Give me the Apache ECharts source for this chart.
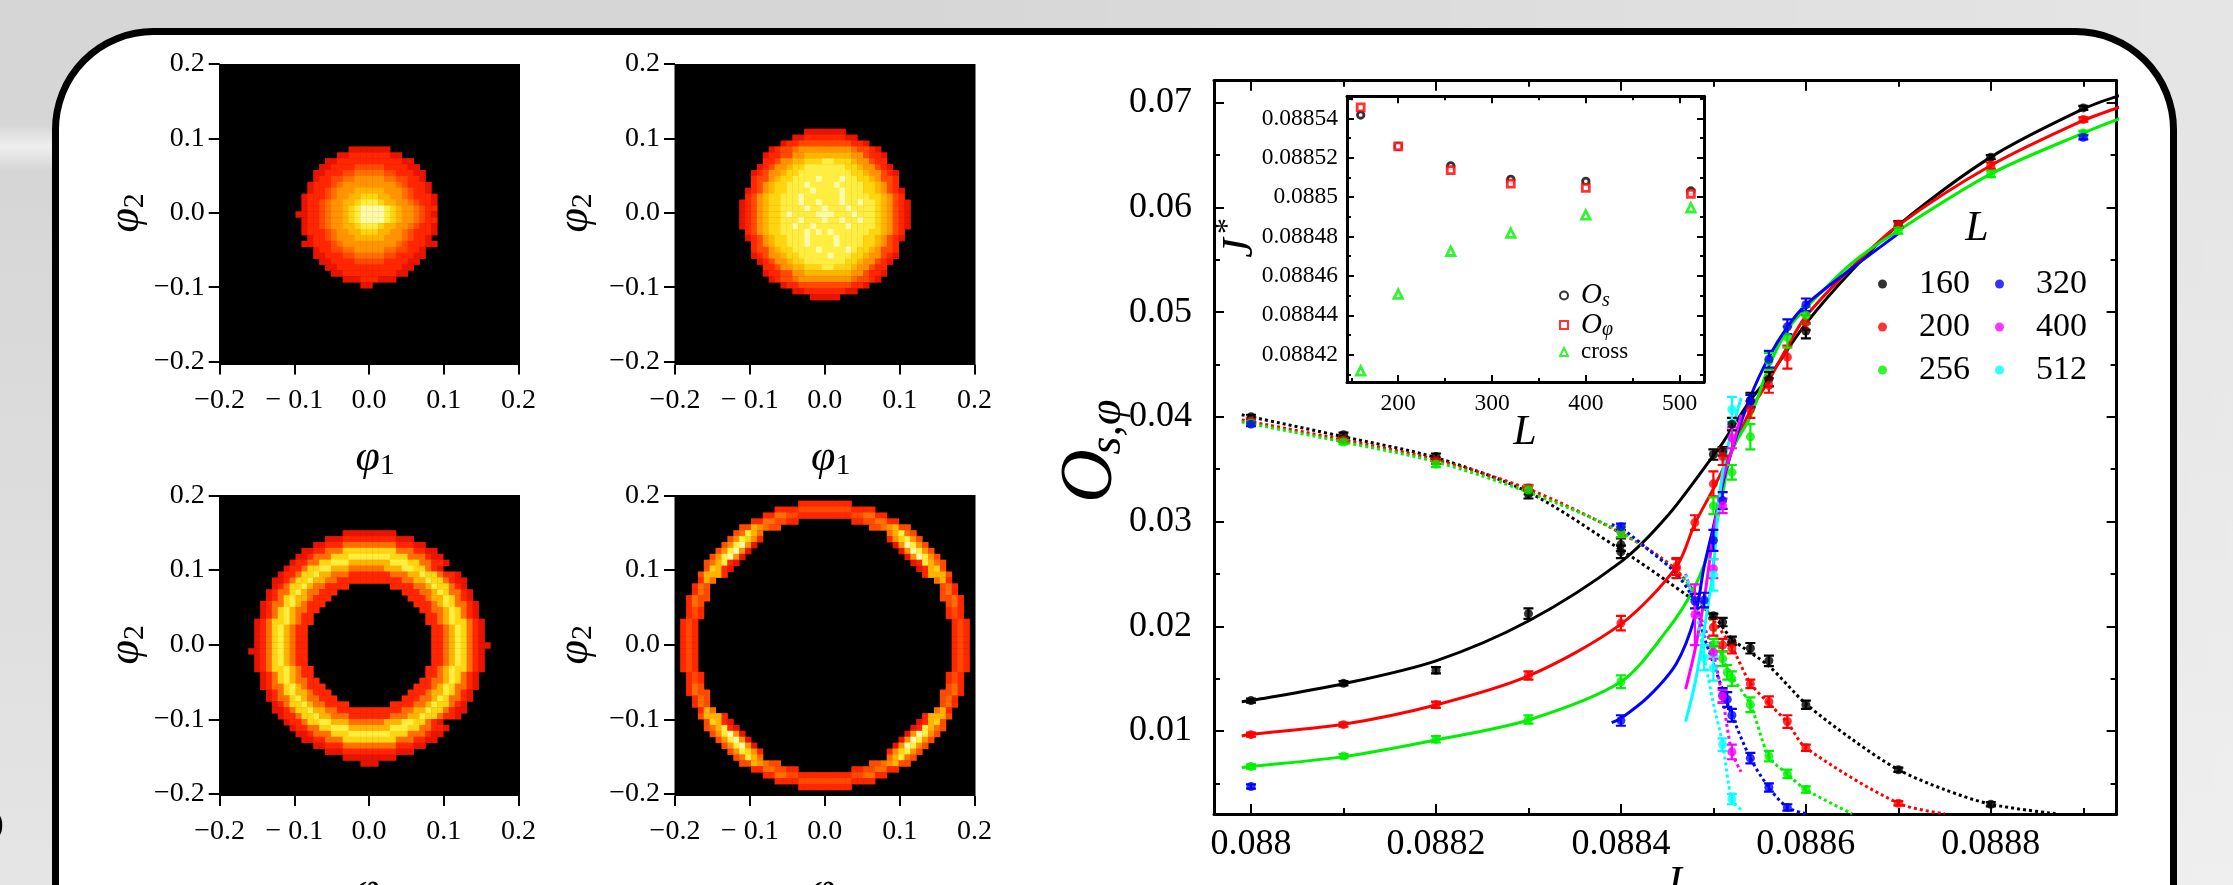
<!DOCTYPE html>
<html><head><meta charset="utf-8">
<style>html,body{margin:0;padding:0;background:#e0e0e0}#c{width:2233px;height:885px}</style>
<script src="https://cdn.jsdelivr.net/npm/echarts@6/dist/echarts.min.js"></script>
</head><body><div id="c"></div>
<script>
// ---------- inset data ----------
const insetL=[160,200,256,320,400,512];
const insetOs=[0.0885417,0.0885258,0.0885159,0.088509,0.088508,0.0885031];
const insetOphi=[0.0885456,0.0885258,0.0885137,0.0885068,0.0885047,0.0885017];
const insetCross=[0.0884117,0.0884507,0.0884725,0.0884817,0.088491,0.0884946];
// ---------- main plot points [J, value, error] ----------
const pts160=[[.088,.0129,.0002],[.0881,.01455,.0002],[.0882,.0158,.0003],[.0883,.0212,.0005],[.0884,.0271,.0006],[.0885,.0364,.0005],[.08851,.0367,.0004],[.08852,.0393,.0006],[.08854,.0416,.0007],[.08856,.0436,.0007],[.0886,.0482,.0007],[.0887,.0584,.0003],[.0888,.0648,.0002],[.0889,.0695,.0002],
[.088,.04,.0002],[.0881,.0383,.0002],[.0882,.0362,.0003],[.0883,.0326,.0004],[.0884,.0278,.0006],[.0885,.021,.0002],[.08851,.0204,.0004],[.08852,.0186,.0004],[.08854,.0179,.0005],[.08856,.0167,.0005],[.0886,.0125,.0004],[.0887,.0063,.0002],[.0888,.003,.0002]];
const pts200=[[.088,.00965,.0002],[.0881,.0106,.0002],[.0882,.0125,.0003],[.0883,.0153,.0004],[.0884,.0203,.0007],[.08846,.0257,.0008],[.08848,.0299,.0007],[.0885,.0336,.0012],[.08851,.0362,.0008],[.08854,.0407,.0008],[.08856,.043,.0007],[.08858,.0457,.0011],[.0886,.049,.0007],[.0887,.0584,.0002],[.0888,.064,.0003],[.0889,.0684,.0002],
[.088,.0396,.0002],[.0881,.0378,.0002],[.0882,.0358,.0003],[.0883,.0332,.0003],[.0884,.029,.0005],[.08846,.0255,.0009],[.0885,.0199,.0008],[.08851,.0182,.0006],[.08852,.0179,.0005],[.08854,.0145,.0004],[.08856,.0128,.0005],[.08858,.0109,.0006],[.0886,.0084,.0003],[.0887,.0031,.0002]];
const pts256=[[.088,.0066,.0002],[.0881,.0076,.0002],[.0882,.0092,.0003],[.0883,.0111,.0004],[.0884,.0147,.0006],[.0885,.0315,.0008],[.08852,.0347,.0007],[.08854,.0381,.0012],[.08856,.0453,.0008],[.08858,.0476,.001],[.0886,.0497,.0008],[.0887,.0578,.0003],[.0888,.0632,.0003],[.0889,.0671,.0002],
[.088,.0394,.0002],[.0881,.0376,.0002],[.0882,.0355,.0003],[.0883,.033,.0004],[.0884,.029,.0005],[.0885,.0182,.0006],[.08851,.0169,.0007],[.088515,.0156,.0007],[.08852,.015,.0007],[.08854,.0125,.0007],[.08856,.0076,.0005],[.08858,.0059,.0004],[.0886,.0044,.0003]];
const pts320=[[.088,.0047,.0002],[.0884,.011,.0005],[.0885,.0282,.001],[.08851,.032,.0008],[.08854,.0415,.0006],[.08856,.0455,.0008],[.08858,.0486,.0007],[.0886,.0507,.0006],[.0889,.0667,.0002],
[.088,.0393,.0002],[.0884,.0295,.0003],[.08848,.0224,.0007],[.08849,.0225,.0007],[.08851,.0134,.0007],[.088515,.013,.0007],[.08852,.0115,.0006],[.08854,.0074,.0005],[.08856,.0046,.0004],[.08858,.0027,.0003]];
const pts400=[[.08848,.0211,.0029],[.0885,.0255,.0009],[.08851,.0315,.0007],[.08852,.038,.001],[.0885,.0175,.0006],[.08851,.0133,.0006],[.08852,.008,.0007]];
const pts512=[[.08852,.0407,.0012],[.0885,.0249,.0015],[.08849,.017,.0012],[.0885,.016,.0012],[.08851,.0087,.0006],[.08852,.0035,.0005]];
// ---------- fitted curves ----------
const rise160=[[.08799,.0128],[.088,.0129],[.0881,.01451],[.0882,.0167],[.0883,.0205],[.0884,.02615],[.08845,.0305],[.0885,.0363],[.08851,.0375],[.08854,.0416],[.08856,.0438],[.0886,.0489],[.08865,.054],[.0887,.0583],[.0888,.0648],[.0889,.0694],[.08894,.0707]];
const rise200=[[.08799,.00952],[.088,.00968],[.0881,.01064],[.0882,.01248],[.0883,.01525],[.0884,.0202],[.08846,.02568],[.08848,.0298],[.0885,.03315],[.08852,.0368],[.08854,.0406],[.08856,.0435],[.08858,.0467],[.0886,.0496],[.08865,.0543],[.0887,.0583],[.0888,.064],[.0889,.0683],[.08894,.0696]];
const rise256=[[.08799,.0065],[.088,.0066],[.0881,.00755],[.0882,.00914],[.0883,.01105],[.0884,.0147],[.08845,.01963],[.08848,.0238],[.0885,.02854],[.08851,.0327],[.08852,.0368],[.08854,.04],[.08856,.0448],[.08858,.0483],[.0886,.0504],[.08865,.0547],[.0887,.0578],[.0888,.0632],[.0889,.0671],[.08894,.0685]];
const rise320=[[.08839,.0108],[.0884,.0112],[.08843,.0133],[.08846,.01645],[.08848,.0209],[.08849,.0257],[.0885,.0295],[.08851,.0336],[.08852,.0368],[.08854,.0419],[.08856,.0457],[.08858,.0486],[.0886,.0507],[.08865,.0542],[.0887,.0575]];
const rise400=[[.08847,.014],[.08848,.0177],[.08849,.0225],[.0885,.0289],[.08851,.034],[.08852,.0368],[.08853,.0402]];
const rise512=[[.08847,.0109],[.08848,.0145],[.08849,.0196],[.0885,.0257],[.088506,.032],[.088513,.0362],[.08853,.0418]];
const fall160=[[.08799,.0402],[.088,.04],[.0881,.0381],[.0882,.0361],[.0883,.0328],[.0884,.0273],[.08845,.0243],[.0885,.021],[.08852,.0188],[.08856,.0162],[.0886,.0126],[.08865,.0092],[.0887,.0063],[.08875,.0044],[.0888,.003],[.08887,.0021]];
const fall200=[[.08799,.0397],[.0881,.0378],[.0882,.0359],[.0883,.0331],[.0884,.0289],[.08846,.02536],[.0885,.0206],[.08852,.018],[.08854,.01455],[.08856,.01264],[.08858,.0108],[.0886,.0084],[.0887,.0031],[.08875,.0021]];
const fall256=[[.08799,.0395],[.0881,.0376],[.0882,.0357],[.0883,.0328],[.0884,.029],[.08846,.0252],[.08848,.0231],[.0885,.02],[.08851,.0169],[.08852,.0152],[.08854,.0125],[.08856,.00755],[.08858,.0059],[.0886,.0044],[.08865,.0021]];
const fall320=[[.08839,.0297],[.0884,.0294],[.08843,.0273],[.08846,.025],[.08848,.0223],[.08849,.019],[.0885,.01645],[.08851,.0139],[.08852,.0115],[.08854,.0074],[.08856,.0046],[.08858,.0027],[.0886,.0021]];
const fall400=[[.08847,.025],[.08848,.0222],[.08849,.02],[.0885,.0174],[.08851,.0131],[.08852,.008],[.08853,.0061]];
const fall512=[[.08847,.0249],[.08848,.0219],[.08849,.0171],[.0885,.0126],[.08851,.0088],[.08852,.0034],[.08853,.0025]];
const sizeNames=['160','200','256','320','400','512'];
const sizeColors=['#000000','#ff0000','#00f000','#0000ff','#ff00ff','#00ffff'];
// ---------- heat maps: each row (top to bottom) lists [first column relative to centre, intensity digits] ----------
const disc1Rows=[
[[-3,"1111111"]],[[-5,"11222222211"]],[[-7,"112222222222211"]],[[-8,"11222233333222211"]],[[-9,"1122233444443322211"]],[[-9,"1223344555554433221"]],
[[-10,"122234555555555432221"]],[[-10,"122345556666655543221"]],[[-11,"12223455667776655432221"]],[[-11,"12234556678887665543221"]],
[[-11,"12234556789999876554322"]],[[-12,"112234556789999876554321"]],[[-11,"12234556789999876554322"]],[[-11,"12234556678887665543221"]],[[-11,"12223455667776655432221"]],
[[-10,"122345556666655543221"]],[[-11,"11222345555555554322211"]],[[-9,"1223344555554433221"]],[[-9,"1122233444443322211"]],[[-8,"11222233333222211"]],[[-7,"112222222222211"]],[[-6,"1122222222211"]],[[-4,"111222111"]],[[-1,"11"]]];
const disc2Rows=[
[[-3,"1111111"]],[[-5,"11222222211"]],[[-7,"122333333333221"]],[[-9,"1233455555555543321"]],[[-10,"122335566666666553221"]],[[-10,"223556677788777655322"]],
[[-11,"12355677888888877655321"]],[[-12,"1235567788888888877655321"]],[[-12,"2335677888898889887765332"]],[[-12,"2356778889888898888776532"]],
[[-13,"123567788889888898887765321"]],[[-13,"235677888988888898888776532"]],[[-14,"12356778889889888988988765321"]],[[-14,"12356778888988988898888765321"]],
[[-14,"12356778988889998889888765321"]],[[-14,"12356778889888988988988765321"]],[[-14,"12356778898898888898888765321"]],[[-13,"235677888898989888888776532"]],
[[-13,"123567788898888988887765321"]],[[-12,"2356778889888898888776532"]],[[-12,"2335677888898888987765332"]],[[-12,"1235567788888988877655321"]],
[[-11,"12355677888888877655321"]],[[-10,"223556677788777655322"]],[[-10,"122335566666666553221"]],[[-9,"1233455555555543321"]],[[-7,"122333333333221"]],[[-5,"11222222211"]],[[-2,"11111"]]];
const ring3Rows=[
[[-4,"111111111"]],[[-7,"111222222222111"]],[[-9,"1122244444444422211"]],[[-11,"11224447777777774442211"]],[[-12,"1124447778888888777444211"]],[[-13,"122447788866666668887744221"]],
[[-14,"122477886664444446668877421"]],[[-15,"1224778664442222222444668774221"]],[[-16,"112477866442222222222244668774211"]],[[-16,"1247786442222"],[4,"2222446877421"]],
[[-17,"124478644222"],[6,"222446874421"]],[[-17,"12478664222"],[7,"22246687421"]],[[-18,"12447864222"],[8,"22246874421"]],[[-18,"1247864422"],[9,"2244687421"]],[[-18,"124786422"],[10,"224687421"]],
[[-19,"1247786422"],[10,"2246877421"]],[[-19,"124786422"],[11,"224687421"]],[[-19,"124786422"],[11,"224687421"]],[[-19,"124786422"],[11,"224687421"]],[[-19,"124786422"],[11,"2246874211"]],[[-20,"1124786422"],[11,"224687421"]],[[-19,"124786422"],[11,"224687421"]],[[-19,"124786422"],[11,"224687421"]],
[[-19,"1247786422"],[10,"2246877421"]],[[-18,"124786422"],[10,"224687421"]],[[-18,"1247864422"],[9,"2244687421"]],[[-18,"12447864222"],[8,"22246874421"]],[[-17,"12478664222"],[7,"22246687421"]],[[-17,"124478644222"],[6,"222446874421"]],[[-16,"1247786442222"],[4,"2222446877421"]],
[[-16,"112477866442222222222244668774211"]],[[-15,"1224778664442222222444668774221"]],[[-14,"122477886664444446668877421"]],[[-13,"122447788866666668887744221"]],[[-12,"1124447778888888777444211"]],[[-11,"11224447777777774442211"]],[[-9,"1122244444444422211"]],[[-7,"111222222222111"]],[[-4,"111111111"]],[[-1,"111"]]];
const ring4Rows=[
[[-4,"222222222"]],[[-8,"22223333333332222"]],[[-10,"224433222222222334422"]],[[-12,"22443322"],[5,"22334422"]],[[-14,"3365433"],[8,"3345633"]],[[-15,"34864"],[11,"46843"]],[[-16,"358752"],[11,"257853"]],[[-17,"358951"],[12,"159853"]],[[-18,"358951"],[13,"159853"]],[[-19,"358951"],[14,"159853"]],[[-20,"346821"],[15,"128643"]],[[-20,"37621"],[16,"12673"]],[[-21,"36662"],[17,"26663"]],[[-21,"264"],[19,"462"]],[[-22,"243"],[20,"342"]],[[-22,"243"],[20,"342"]],[[-23,"2433"],[20,"3342"]],[[-23,"243"],[21,"342"]],[[-23,"232"],[21,"232"]],[[-23,"232"],[21,"232"]],[[-24,"232"],[22,"232"]],[[-24,"232"],[22,"232"]],[[-24,"232"],[22,"232"]],[[-24,"232"],[22,"232"]],[[-24,"232"],[22,"232"]],
[[-24,"232"],[22,"232"]],[[-24,"232"],[22,"232"]],[[-24,"232"],[22,"232"]],[[-24,"232"],[22,"232"]],[[-23,"232"],[21,"232"]],[[-23,"232"],[21,"232"]],[[-23,"243"],[21,"342"]],[[-23,"2433"],[20,"3342"]],[[-22,"243"],[20,"342"]],[[-22,"243"],[20,"342"]],[[-21,"264"],[19,"462"]],[[-21,"36662"],[17,"26663"]],[[-20,"37621"],[16,"12673"]],[[-20,"346821"],[15,"128643"]],[[-19,"358951"],[14,"159853"]],[[-18,"358951"],[13,"159853"]],[[-17,"358951"],[12,"159853"]],[[-16,"358752"],[11,"257853"]],[[-15,"34864"],[11,"46843"]],[[-14,"3365433"],[8,"3345633"]],[[-12,"22443322"],[5,"22334422"]],[[-10,"224433222222222334422"]],[[-8,"22223333333332222"]],[[-4,"222222222"]]];
const heatTopRow=[11,14,20,24];
const heatLevels=["#e81400","#ff2600","#ff4a00","#ff7000","#ff9400","#ffb400","#ffd410","#ffee40","#fffaa8"];
const heatXLabels=['−0.2','− 0.1','0.0','0.1','0.2'];
const heatYLabels=['−0.2','−0.1','0.0','0.1','0.2'];
const mainXMajor=[.088,.0882,.0884,.0886,.0888];
const mainXMinor=[.0881,.0883,.0885,.0887,.0889];
const mainYMajor=[.01,.02,.03,.04,.05,.06,.07];
const mainYMinor=[.005,.015,.025,.035,.045,.055,.065];
const insetXMajor=[200,300,400,500];
const insetXMinor=[150,250,350,450];
const insetYMajor=[.08842,.08844,.08846,.08848,.0885,.08852,.08854];
const insetYMinor=[.08841,.08843,.08845,.08847,.08849,.08851,.08853,.08855];

const serif='"Liberation Serif"';
const grids=[],xAxes=[],yAxes=[],series=[];
function addGrid(l,t,w,h){grids.push({left:l,top:t,width:w,height:h,containLabel:false,outerBoundsMode:'none'});return grids.length-1;}
const heatCats=[];for(let i=0;i<51;i++)heatCats.push(String(i));
function cellsFrom(rows,topRow){
  const out=[];const top=25+topRow;
  rows.forEach((row,r)=>{row.forEach(seg=>{
    const s=seg[1];
    for(let k=0;k<s.length;k++){const v=+s[k];if(v>0)out.push([25+seg[0]+k,top-r,v]);}
  });});
  return out;
}
const nameRich={p:{fontFamily:serif,fontStyle:'italic',fontSize:44,color:'#000'},n:{fontFamily:serif,fontSize:30,color:'#000',padding:[16,0,0,0]}};
const heatIdx=[];
function panel(bx,by,tx,ty,tw,th,off,yGap,rows,topRow){
  const g=addGrid(bx,by,301,301);
  xAxes.push({type:'category',gridIndex:g,show:false,data:heatCats});
  yAxes.push({type:'category',gridIndex:g,show:false,data:heatCats});
  heatIdx.push(series.length);
  series.push({type:'heatmap',xAxisIndex:xAxes.length-1,yAxisIndex:yAxes.length-1,data:cellsFrom(rows,topRow),silent:true,progressive:0,animation:false,emphasis:{disabled:true}});
  grids[g].show=true;grids[g].backgroundColor='#000';grids[g].borderWidth=0;
  const h=addGrid(tx,ty,tw,th);
  xAxes.push({type:'value',gridIndex:h,min:-0.2,max:0.2,interval:0.1,position:'bottom',offset:off,splitLine:{show:false},axisLine:{show:false,onZero:false},
    axisTick:{show:true,length:10,lineStyle:{color:'#000',width:2}},
    axisLabel:{margin:22,fontFamily:serif,fontSize:28,color:'#000',hideOverlap:false,showMinLabel:true,showMaxLabel:true,formatter:v=>heatXLabels[Math.round((v+0.2)/0.1)]},
    name:'{p|φ}{n|1}',nameLocation:'middle',nameGap:71,nameTextStyle:{rich:nameRich,padding:[0,0,0,12]}});
  yAxes.push({type:'value',gridIndex:h,min:-0.2,max:0.2,interval:0.1,position:'left',splitLine:{show:false},axisLine:{show:false,onZero:false},
    axisTick:{show:true,length:11,lineStyle:{color:'#000',width:2}},
    axisLabel:{margin:15,fontFamily:serif,fontSize:28,color:'#000',hideOverlap:false,showMinLabel:true,showMaxLabel:true,formatter:v=>heatYLabels[Math.round((v+0.2)/0.1)]},
    name:'{p|φ}{n|2}',nameLocation:'middle',nameRotate:90,nameGap:yGap,nameTextStyle:{rich:nameRich}});
  series.push({type:'scatter',xAxisIndex:xAxes.length-1,yAxisIndex:yAxes.length-1,data:[],silent:true});
}
panel(219,64,219.7,64,298.8,297.6,3,70,disc1Rows,heatTopRow[0]);
panel(674.5,64,675,64,299.5,297.6,3,77,disc2Rows,heatTopRow[1]);
panel(219,495,219.7,495.5,298.8,298.5,2,70,ring3Rows,heatTopRow[2]-1);
panel(674.5,495,675,495.5,299.5,298.5,2,77,ring4Rows,heatTopRow[3]);

function framed(box,xr,yr,xM,xm,yM,ym,opt){
  const g=addGrid(box[0],box[1],box[2],box[3]);
  const line={show:true,onZero:false,lineStyle:{color:'#000',width:opt.lw}};
  const tick=(len,vals)=>({show:true,inside:true,length:len,customValues:vals,lineStyle:{color:'#000',width:2}});
  xAxes.push({type:'value',gridIndex:g,min:xr[0],max:xr[1],position:'bottom',splitLine:{show:false},axisLine:line,axisTick:tick(opt.maj,xM),
    axisLabel:{customValues:xM,margin:opt.xm,fontFamily:serif,fontSize:opt.fs,color:'#000',hideOverlap:false,showMinLabel:true,showMaxLabel:true,formatter:v=>String(v)}});
  const xb=xAxes.length-1;
  xAxes.push({type:'value',gridIndex:g,min:xr[0],max:xr[1],position:'top',splitLine:{show:false},axisLine:line,axisTick:tick(opt.maj,xM),axisLabel:{show:false}});
  yAxes.push({type:'value',gridIndex:g,min:yr[0],max:yr[1],position:'left',splitLine:{show:false},axisLine:line,axisTick:tick(opt.maj,yM),
    axisLabel:{customValues:yM,margin:opt.ym,fontFamily:serif,fontSize:opt.fs,color:'#000',hideOverlap:false,showMinLabel:true,showMaxLabel:true,formatter:opt.yfmt}});
  const yb=yAxes.length-1;
  yAxes.push({type:'value',gridIndex:g,min:yr[0],max:yr[1],position:'right',splitLine:{show:false},axisLine:line,axisTick:tick(opt.maj,yM),axisLabel:{show:false}});
  const m=addGrid(box[0],box[1],box[2],box[3]);
  const noLine={show:false,onZero:false};
  xAxes.push({type:'value',gridIndex:m,min:xr[0],max:xr[1],position:'bottom',splitLine:{show:false},axisLine:noLine,axisTick:tick(opt.min,xm),axisLabel:{show:false}});
  xAxes.push({type:'value',gridIndex:m,min:xr[0],max:xr[1],position:'top',splitLine:{show:false},axisLine:noLine,axisTick:tick(opt.min,xm),axisLabel:{show:false}});
  yAxes.push({type:'value',gridIndex:m,min:yr[0],max:yr[1],position:'left',splitLine:{show:false},axisLine:noLine,axisTick:tick(opt.min,ym),axisLabel:{show:false}});
  yAxes.push({type:'value',gridIndex:m,min:yr[0],max:yr[1],position:'right',splitLine:{show:false},axisLine:noLine,axisTick:tick(opt.min,ym),axisLabel:{show:false}});
  return {x:xb,y:yb};
}
const mainAx=framed([1214,80.7,902.6,733.3],[.08796,.088936],[.00207,.0721],mainXMajor,mainXMinor,mainYMajor,mainYMinor,{lw:3,maj:10,min:6,fs:36,xm:13,ym:22,yfmt:v=>v.toFixed(2)});
const insetAx=framed([1347,96.3,357,285.7],[145.4,526],[.0884061,.0885512],insetXMajor,insetXMinor,insetYMajor,insetYMinor,{lw:3,maj:7,min:4,fs:23.5,xm:10,ym:9,yfmt:v=>String(v)});

const pts=[pts160,pts200,pts256,pts320,pts400,pts512];
const rises=[rise160,rise200,rise256,rise320,rise400,rise512];
const falls=[fall160,fall200,fall256,fall320,fall400,fall512];
sizeNames.forEach((nm,i)=>{
  const col=sizeColors[i];
  series.push({type:'line',xAxisIndex:mainAx.x,yAxisIndex:mainAx.y,data:rises[i],smooth:0.3,showSymbol:false,silent:true,clip:true,lineStyle:{color:col,width:3},itemStyle:{color:col},z:3});
  series.push({type:'line',xAxisIndex:mainAx.x,yAxisIndex:mainAx.y,data:falls[i],smooth:0.3,showSymbol:false,silent:true,clip:true,lineStyle:{color:col,width:3,type:[3,3]},itemStyle:{color:col},z:3});
  series.push({type:'custom',xAxisIndex:mainAx.x,yAxisIndex:mainAx.y,data:pts[i],clip:true,silent:true,encode:{x:0,y:1},z:4,
    renderItem:(p,api)=>{
      const x=api.value(0),y=api.value(1),e=api.value(2);
      const a=api.coord([x,y-e]),b=api.coord([x,y+e]);
      const st={stroke:col,lineWidth:2.2,fill:null};
      return {type:'group',children:[
        {type:'line',shape:{x1:a[0],y1:a[1],x2:b[0],y2:b[1]},style:st},
        {type:'line',shape:{x1:a[0]-5,y1:a[1],x2:a[0]+5,y2:a[1]},style:st},
        {type:'line',shape:{x1:b[0]-5,y1:b[1],x2:b[0]+5,y2:b[1]},style:st}]};
    }});
  series.push({type:'scatter',name:nm,xAxisIndex:mainAx.x,yAxisIndex:mainAx.y,data:pts[i].map(q=>[q[0],q[1]]),symbol:'circle',symbolSize:9,silent:true,clip:true,itemStyle:{color:col},z:5});
});
const insetDefs=[['Os',insetOs,'circle','#000',6.5],['Ophi',insetOphi,'rect','#ff0000',7],['cross',insetCross,'triangle','#00f000',8.5]];
insetDefs.forEach(d=>{
  series.push({type:'scatter',name:d[0],xAxisIndex:insetAx.x,yAxisIndex:insetAx.y,data:insetL.map((l,i)=>[l,d[1][i]]),symbol:d[2],symbolSize:d[4],silent:true,
    itemStyle:{color:'#fff',borderColor:d[3],borderWidth:2.8},z:5});
});
const legendBase={selectedMode:false,orient:'vertical',icon:'circle',itemWidth:9,itemHeight:9,itemGap:5,textStyle:{fontFamily:serif,fontSize:34,color:'#000',lineHeight:38,padding:[0,0,0,27]}};
const option={
  animation:false,
  backgroundColor:new echarts.graphic.LinearGradient(0,0,0,1,[{offset:0,color:'#d6d6d6'},{offset:.2,color:'#d6d6d6'},{offset:1,color:'#e5e5e5'}]),
  grid:grids,xAxis:xAxes,yAxis:yAxes,series:series,
  visualMap:{show:false,type:'continuous',min:1,max:9,dimension:2,seriesIndex:heatIdx,inRange:{color:heatLevels}},
  legend:[
    Object.assign({},legendBase,{left:1873,top:260,data:['160','200','256']}),
    Object.assign({},legendBase,{left:1990,top:260,data:['320','400','512']}),
    {selectedMode:false,orient:'vertical',left:1554,top:276,itemWidth:8,itemHeight:8,itemGap:0,data:['Os','Ophi','cross'],
     textStyle:{fontFamily:serif,fontSize:23,color:'#000',lineHeight:24,padding:[0,0,0,8],rich:{o:{fontFamily:serif,fontStyle:'italic',fontSize:29,color:'#000'},s:{fontFamily:serif,fontStyle:'italic',fontSize:20,color:'#000',padding:[10,0,0,0]}}},
     formatter:n=>n==='Os'?'{o|O}{s|s}':n==='Ophi'?'{o|O}{s|φ}':'cross'}
  ],
  graphic:{elements:[
    {type:'rect',z:-12,silent:true,shape:{x:0,y:0,width:2233,height:885},style:{fill:new echarts.graphic.LinearGradient(0,0,1,0,[{offset:0,color:'rgba(255,255,255,0)'},{offset:.4,color:'rgba(255,255,255,0)'},{offset:1,color:'rgba(255,255,255,.38)'}])}},
    {type:'rect',z:-11,silent:true,shape:{x:0,y:125,width:53,height:46},style:{fill:new echarts.graphic.LinearGradient(0,0,0,1,[{offset:0,color:'rgba(255,255,255,0)'},{offset:.45,color:'rgba(255,255,255,.6)'},{offset:1,color:'rgba(255,255,255,0)'}])}},
    {type:'rect',z:-10,silent:true,shape:{x:55.5,y:31.5,width:2118,height:1100,r:98},style:{fill:'#fff',stroke:'#000',lineWidth:7}},
    {type:'text',z:-9,silent:true,x:-7,y:825,style:{text:')',font:'32px "Liberation Serif"',fill:'#000',verticalAlign:'middle'}},
    {type:'text',silent:true,x:1977,y:229,style:{text:'L',font:'italic 42px "Liberation Serif"',fill:'#000',align:'center',verticalAlign:'middle'}},
    {type:'text',silent:true,x:1525,y:433,style:{text:'L',font:'italic 42px "Liberation Serif"',fill:'#000',align:'center',verticalAlign:'middle'}},
    {type:'text',silent:true,x:1672,y:884,style:{text:'J',font:'italic 44px "Liberation Serif"',fill:'#000',align:'center',verticalAlign:'middle'}},
    {type:'text',silent:true,x:1240,y:248,rotation:Math.PI/2,style:{text:'J',font:'italic 44px "Liberation Serif"',fill:'#000',align:'center',verticalAlign:'middle'}},
    {type:'text',silent:true,x:1229,y:226,rotation:Math.PI/2,style:{text:'*',font:'32px "Liberation Serif"',fill:'#000',align:'center',verticalAlign:'middle'}},
    {type:'text',silent:true,x:1092,y:476,rotation:Math.PI/2,style:{text:'O',font:'italic 74px "Liberation Serif"',fill:'#000',align:'center',verticalAlign:'middle'}},
    {type:'text',silent:true,x:1108,y:427,rotation:Math.PI/2,style:{text:'s,φ',font:'italic 46px "Liberation Serif"',fill:'#000',align:'center',verticalAlign:'middle'}}
  ]}
};
const chart=echarts.init(document.getElementById('c'),null,{renderer:'canvas',width:2233,height:885});
chart.setOption(option);
</script></body></html>
